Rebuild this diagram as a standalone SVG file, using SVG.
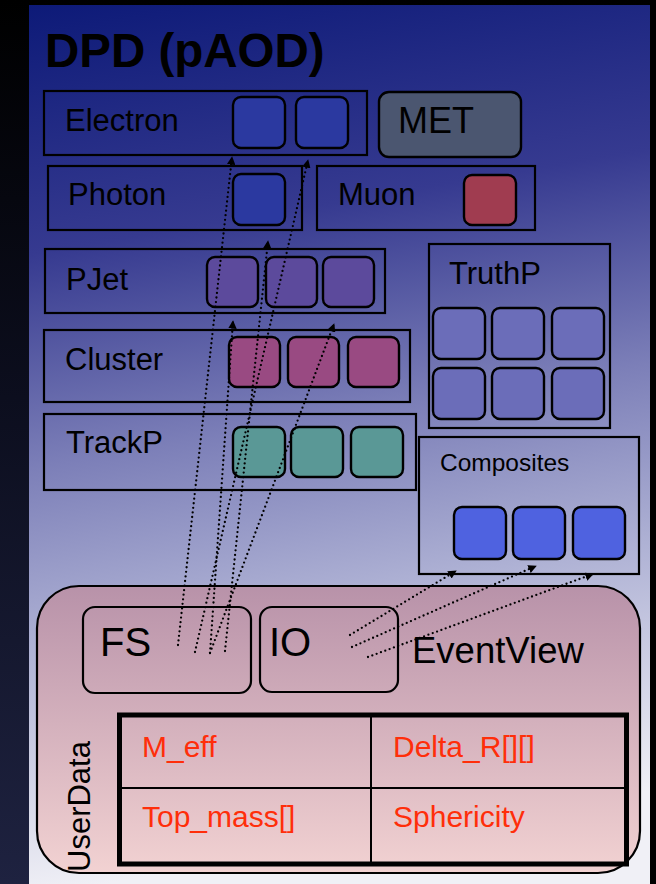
<svg xmlns="http://www.w3.org/2000/svg" width="656" height="884" viewBox="0 0 656 884">
  <defs>
    <linearGradient id="side" x1="0" y1="0" x2="0" y2="1">
      <stop offset="0" stop-color="#000000"/>
      <stop offset="0.45" stop-color="#0c0e1e"/>
      <stop offset="1" stop-color="#1e2240"/>
    </linearGradient>
    <linearGradient id="panel" x1="0" y1="0" x2="0.12" y2="1">
      <stop offset="0" stop-color="#0d1a78"/>
      <stop offset="0.28" stop-color="#363a90"/>
      <stop offset="0.52" stop-color="#7c7fb8"/>
      <stop offset="0.72" stop-color="#aeb1d4"/>
      <stop offset="1" stop-color="#f0f0f6"/>
    </linearGradient>
    <linearGradient id="ev" x1="0" y1="0" x2="0" y2="1">
      <stop offset="0" stop-color="#b892a9"/>
      <stop offset="1" stop-color="#f2d2d2"/>
    </linearGradient>
    <marker id="arrow" viewBox="0 0 10 10" refX="9" refY="5" markerWidth="8.5" markerHeight="8.5" markerUnits="userSpaceOnUse" orient="auto">
      <path d="M0,0 L10,5 L0,10 Z" fill="#000"/>
    </marker>
    <style>
      .box { fill: none; stroke: #000; stroke-width: 2.2; }
      .cell { stroke: #000; stroke-width: 2.4; }
      .lbl { font-family: "Liberation Sans", Arial, sans-serif; font-size: 31px; fill: #000; }
      .red { font-family: "Liberation Sans", Arial, sans-serif; font-size: 30px; fill: #ff2e0a; }
      .link { fill: none; stroke: #000; stroke-width: 2.3; stroke-linecap: round; stroke-dasharray: 0 4.6; marker-end: url(#arrow); }
      .blue { fill: #2b39a0; }
      .jet { fill: #5c4a9c; }
      .clu { fill: #994a82; }
      .trk { fill: #5a9896; }
      .tru { fill: #6b6db9; }
      .cmp { fill: #4f62e0; }
    </style>
  </defs>

  <!-- backdrop -->
  <rect x="0" y="0" width="656" height="884" fill="url(#side)"/>
  <rect x="650" y="0" width="6" height="884" fill="#000"/>
  <rect x="29" y="5" width="621" height="879" fill="url(#panel)"/>

  <text x="45" y="67" font-family="Liberation Sans, Arial, sans-serif" font-size="47.5" font-weight="bold" fill="#000">DPD (pAOD)</text>

  <g id="electron">
    <rect class="box" x="44" y="91" width="323" height="64"/>
    <text class="lbl" x="65" y="131">Electron</text>
    <rect class="cell blue" x="233" y="97" width="52" height="51" rx="8"/>
    <rect class="cell blue" x="296" y="97" width="52" height="51" rx="8"/>
  </g>

  <g id="met">
    <rect x="379" y="92" width="142" height="65" rx="10" fill="#4b5670" stroke="#000" stroke-width="2.4"/>
    <text class="lbl" x="398" y="133" style="font-size:36px">MET</text>
  </g>

  <g id="photon">
    <rect class="box" x="48" y="166" width="254" height="64"/>
    <text class="lbl" x="68" y="205">Photon</text>
    <rect class="cell blue" x="233" y="174" width="52" height="51" rx="8"/>
  </g>

  <g id="muon">
    <rect class="box" x="317" y="166" width="218" height="64"/>
    <text class="lbl" x="338" y="205">Muon</text>
    <rect class="cell" x="464" y="175" width="52" height="50" rx="8" fill="#a03c50"/>
  </g>

  <g id="pjet">
    <rect class="box" x="45" y="249" width="340" height="64"/>
    <text class="lbl" x="66" y="290">PJet</text>
    <rect class="cell jet" x="207" y="257" width="51" height="50" rx="8"/>
    <rect class="cell jet" x="266" y="257" width="51" height="50" rx="8"/>
    <rect class="cell jet" x="323" y="257" width="51" height="50" rx="8"/>
  </g>

  <g id="cluster">
    <rect class="box" x="44" y="330" width="366" height="72"/>
    <text class="lbl" x="65" y="370">Cluster</text>
    <rect class="cell clu" x="229" y="337" width="51" height="50" rx="8"/>
    <rect class="cell clu" x="288" y="337" width="51" height="50" rx="8"/>
    <rect class="cell clu" x="348" y="337" width="51" height="50" rx="8"/>
  </g>

  <g id="trackp">
    <rect class="box" x="44" y="414" width="372" height="76"/>
    <text class="lbl" x="66" y="453">TrackP</text>
    <rect class="cell trk" x="233" y="427" width="52" height="50" rx="8"/>
    <rect class="cell trk" x="291" y="427" width="52" height="50" rx="8"/>
    <rect class="cell trk" x="351" y="427" width="52" height="50" rx="8"/>
  </g>

  <g id="truthp">
    <rect class="box" x="429" y="244" width="181" height="184"/>
    <text class="lbl" x="449" y="284">TruthP</text>
    <rect class="cell tru" x="433" y="308" width="52" height="51" rx="8"/>
    <rect class="cell tru" x="492" y="308" width="52" height="51" rx="8"/>
    <rect class="cell tru" x="552" y="308" width="52" height="51" rx="8"/>
    <rect class="cell tru" x="433" y="368" width="52" height="51" rx="8"/>
    <rect class="cell tru" x="492" y="368" width="52" height="51" rx="8"/>
    <rect class="cell tru" x="552" y="368" width="52" height="51" rx="8"/>
  </g>

  <g id="composites">
    <rect class="box" x="419" y="437" width="220" height="137"/>
    <text class="lbl" x="440" y="471" style="font-size:24.5px">Composites</text>
    <rect class="cell cmp" x="454" y="507" width="52" height="52" rx="8"/>
    <rect class="cell cmp" x="513" y="507" width="52" height="52" rx="8"/>
    <rect class="cell cmp" x="573" y="507" width="52" height="52" rx="8"/>
  </g>

  <g id="eventview">
    <rect x="37" y="586" width="603" height="287" rx="42" fill="url(#ev)" stroke="#000" stroke-width="2.2"/>
    <text class="lbl" x="412" y="663" style="font-size:36.5px">EventView</text>
    <text class="lbl" transform="translate(90,872) rotate(-90)">UserData</text>
  </g>

  <g id="fs">
    <rect class="box" x="83" y="607" width="168" height="86" rx="12"/>
    <text class="lbl" x="100" y="656" style="font-size:40px">FS</text>
  </g>

  <g id="io">
    <rect class="box" x="260" y="607" width="138" height="85" rx="12"/>
    <text class="lbl" x="269" y="656" style="font-size:40px">IO</text>
  </g>

  <g id="userdata">
    <rect x="119.5" y="715" width="507" height="149" fill="none" stroke="#000" stroke-width="5"/>
    <line x1="122" y1="788" x2="624" y2="788" stroke="#000" stroke-width="2"/>
    <line x1="371" y1="717" x2="371" y2="862" stroke="#000" stroke-width="2"/>
    <text class="red" x="142" y="757">M_eff</text>
    <text class="red" x="393" y="757">Delta_R[][]</text>
    <text class="red" x="142" y="827">Top_mass[]</text>
    <text class="red" x="393" y="827">Sphericity</text>
  </g>

  <g id="connectors">
    <line class="link" x1="178" y1="645" x2="232" y2="157"/>
    <line class="link" x1="195" y1="652" x2="308" y2="160"/>
    <line class="link" x1="210" y1="653" x2="233" y2="321"/>
    <line class="link" x1="225" y1="651" x2="268" y2="241"/>
    <line class="link" x1="210" y1="653" x2="334" y2="324"/>
    <line class="link" x1="350" y1="635" x2="456" y2="571"/>
    <line class="link" x1="352" y1="647" x2="536" y2="566"/>
    <line class="link" x1="368" y1="657" x2="593" y2="574"/>
  </g>
</svg>
